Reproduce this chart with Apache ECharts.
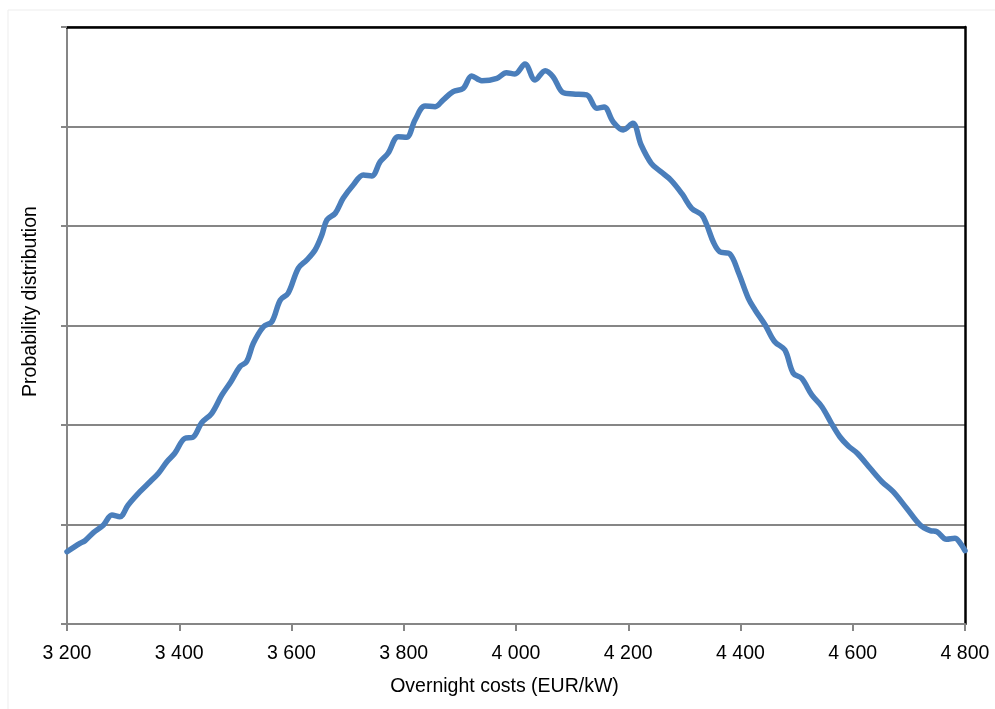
<!DOCTYPE html>
<html>
<head>
<meta charset="utf-8">
<script src="https://cdn.jsdelivr.net/npm/echarts@6/dist/echarts.min.js"></script>
<style>
html,body{margin:0;padding:0;background:#fff;}
#chart{width:995px;height:709px;}
</style>
</head>
<body>
<div id="chart"></div>
<script>
// Overnight costs (EUR/kW)
const costs = [3200,3223,3232,3247,3265,3280,3294,3309,3330,3348,3363,3378,3392,3410,3424,3440,3458,3476,3492,3508,3520,3532,3550,3565,3580,3594,3612,3627,3642,3654,3663,3678,3692,3710,3728,3743,3758,3772,3790,3805,3820,3838,3856,3870,3888,3906,3921,3939,3966,3983,3998,4016,4034,4052,4066,4084,4102,4126,4144,4157,4173,4191,4208,4223,4241,4258,4276,4296,4313,4331,4340,4352,4363,4381,4396,4414,4426,4444,4461,4479,4494,4509,4527,4545,4562,4577,4592,4608,4631,4652,4672,4696,4720,4738,4750,4767,4782,4791,4800];
// Probability distribution (relative units, gridline = 1)
const probability = [0.727,0.811,0.837,0.918,0.995,1.095,1.078,1.196,1.330,1.430,1.515,1.631,1.716,1.866,1.876,2.023,2.118,2.302,2.435,2.586,2.636,2.821,2.988,3.038,3.256,3.324,3.575,3.658,3.759,3.910,4.060,4.128,4.278,4.412,4.513,4.503,4.646,4.731,4.897,4.891,5.065,5.206,5.199,5.266,5.350,5.384,5.508,5.460,5.484,5.541,5.528,5.628,5.467,5.561,5.501,5.340,5.327,5.317,5.183,5.196,5.048,4.965,5.032,4.814,4.630,4.546,4.462,4.322,4.178,4.111,4.010,3.834,3.742,3.719,3.538,3.273,3.156,3.005,2.837,2.754,2.520,2.469,2.302,2.184,2.017,1.882,1.789,1.716,1.565,1.430,1.330,1.163,0.995,0.938,0.928,0.851,0.861,0.817,0.737];
const xTickValues = [3200,3400,3600,3800,4000,4200,4400,4600,4800];
const xTickLabels = ['3 200','3 400','3 600','3 800','4 000','4 200','4 400','4 600','4 800'];
const xTitle = 'Overnight costs (EUR/kW)';
const yTitle = 'Probability distribution';

const chart = echarts.init(document.getElementById('chart'), null, {renderer:'canvas'});
const font = '"Liberation Sans", Arial, sans-serif';
const gray = '#868686';
const seriesData = costs.map((c,i)=>[c, probability[i]]);

chart.setOption({
  animation:false,
  backgroundColor:'#ffffff',
  textStyle:{fontFamily:font},
  graphic:[{type:'rect', shape:{x:8,y:10,width:1100,height:800}, style:{fill:'none', stroke:'#ededed', lineWidth:1}, silent:true, z:-10}],
  grid:{left:67, right:30, top:27, bottom:85, containLabel:false},
  xAxis:[{
    type:'value', min:3200, max:4800, interval:200,
    name:xTitle, nameLocation:'middle', nameGap:53,
    nameTextStyle:{fontFamily:font, fontSize:19.5, color:'#000', padding:[0,23,0,0]},
    axisLine:{show:true, lineStyle:{color:gray, width:2}},
    axisTick:{show:true, length:7, lineStyle:{color:gray, width:2}},
    axisLabel:{margin:20, fontFamily:font, fontSize:19.5, color:'#000',
      formatter:v=>{const i=xTickValues.indexOf(v); return i>=0?xTickLabels[i]:'';}},
    splitLine:{show:false}
  },{
    type:'value', position:'top', min:3200, max:4800,
    axisLine:{show:true, onZero:false, lineStyle:{color:'#000', width:2.5}},
    axisTick:{show:false}, axisLabel:{show:false}, splitLine:{show:false}
  }],
  yAxis:[{
    type:'value', min:0, max:6, interval:1,
    name:yTitle, nameLocation:'middle', nameGap:26, nameRotate:90,
    nameTextStyle:{fontFamily:font, fontSize:19.5, color:'#000', padding:[0,0,0,48]},
    axisLine:{show:true, lineStyle:{color:gray, width:2}},
    axisTick:{show:true, length:6, lineStyle:{color:gray, width:2}},
    axisLabel:{show:false},
    splitLine:{show:true, lineStyle:{color:gray, width:2}}
  },{
    type:'value', position:'right', min:0, max:6,
    axisLine:{show:true, onZero:false, lineStyle:{color:'#000', width:2.5}},
    axisTick:{show:false}, axisLabel:{show:false}, splitLine:{show:false}
  }],
  series:[{
    type:'line', data:seriesData, xAxisIndex:0, yAxisIndex:0,
    smooth:0.35, symbol:'none',
    lineStyle:{color:'#4a7ebb', width:5.5, cap:'round', join:'round'},
    z:5
  }]
});
</script>
</body>
</html>
